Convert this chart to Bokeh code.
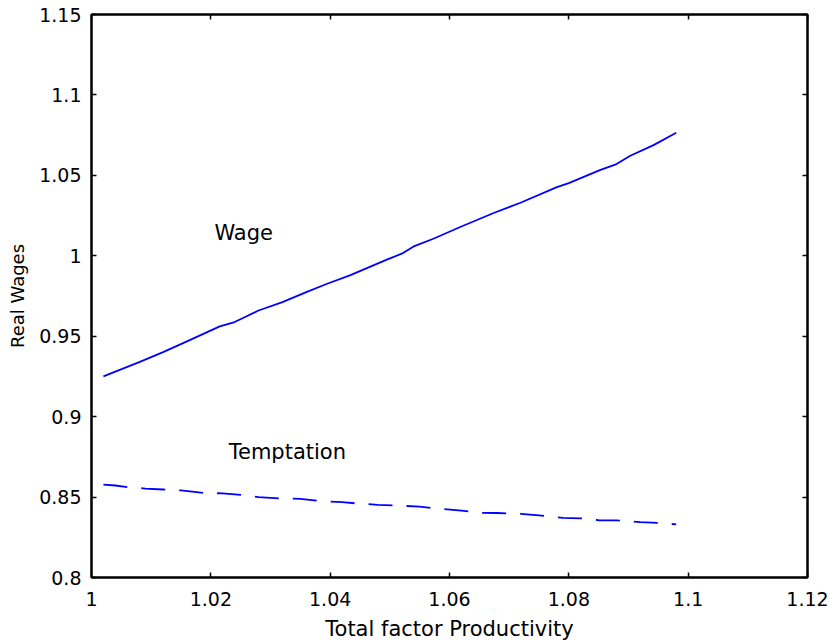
from bokeh.plotting import figure
from bokeh.models import Range1d, FixedTicker, LinearAxis, CustomJSTickFormatter
from bokeh.embed import file_html
from bokeh.resources import INLINE
from bokeh.core.properties import value

# Real wage as a function of total factor productivity
wage_tfp = [1.002, 1.008, 1.012, 1.016, 1.0215, 1.024, 1.028, 1.032, 1.036, 1.0395,
            1.0433, 1.0495, 1.052, 1.054, 1.0573, 1.0618, 1.0674, 1.0718, 1.078, 1.080,
            1.0852, 1.088, 1.0903, 1.0942, 1.098]
wage = [0.9250, 0.9339, 0.9401, 0.9468, 0.9561, 0.9588, 0.9660, 0.9712, 0.9774, 0.9826,
        0.9878, 0.9976, 1.0013, 1.0058, 1.0106, 1.0179, 1.0266, 1.0328, 1.0427, 1.0452,
        1.0533, 1.0570, 1.0622, 1.0688, 1.0765]

# Temptation wage
tempt_tfp = [1.002, 1.004, 1.006, 1.009, 1.012, 1.015, 1.019, 1.022, 1.025, 1.028,
             1.032, 1.035, 1.039, 1.042, 1.045, 1.048, 1.052, 1.055, 1.058, 1.062,
             1.065, 1.068, 1.072, 1.075, 1.079, 1.082, 1.085, 1.088, 1.092, 1.095, 1.098]
temptation = [0.8577, 0.8572, 0.8562, 0.8553, 0.8547, 0.8541, 0.8525, 0.8523, 0.8514, 0.8500,
              0.8491, 0.8489, 0.8473, 0.8468, 0.8459, 0.8452, 0.8446, 0.8440, 0.8428, 0.8416,
              0.8402, 0.8401, 0.8396, 0.8386, 0.8371, 0.8368, 0.8356, 0.8355, 0.8344, 0.8340,
              0.8330]

x_ticks = [1.0, 1.02, 1.04, 1.06, 1.08, 1.1, 1.12]
x_tick_labels = ["1", "1.02", "1.04", "1.06", "1.08", "1.1", "1.12"]
y_ticks = [0.8, 0.85, 0.9, 0.95, 1.0, 1.05, 1.1, 1.15]
y_tick_labels = ["0.8", "0.85", "0.9", "0.95", "1", "1.05", "1.1", "1.15"]

FONT = "DejaVu Sans"
BLUE = "#0000ff"

p = figure(width=838, height=644, output_backend="svg", toolbar_location=None,
           x_range=Range1d(1.0, 1.12), y_range=Range1d(0.8, 1.15),
           min_border_left=91, min_border_right=31, min_border_top=14, min_border_bottom=67)
p.background_fill_color = "white"
p.border_fill_color = "white"
p.grid.visible = False
p.outline_line_color = "black"
p.outline_line_width = 2

def style_axis(ax, ticks, labels, show_labels):
    ax.ticker = FixedTicker(ticks=ticks)
    ax.major_tick_in = 5
    ax.major_tick_out = 0
    ax.minor_tick_in = 0
    ax.minor_tick_out = 0
    ax.axis_line_width = 2
    ax.major_tick_line_width = 1.5
    ax.major_label_text_font = FONT
    ax.major_label_text_font_size = "19px"
    ax.major_label_text_color = "black"
    if show_labels:
        ax.major_label_overrides = {t: s for t, s in zip(ticks, labels)}
    else:
        ax.formatter = CustomJSTickFormatter(code="return ''")
        ax.major_label_text_font_size = "0px"
        ax.major_label_standoff = 0

xa = p.xaxis[0]
ya = p.yaxis[0]
style_axis(xa, x_ticks, x_tick_labels, True)
style_axis(ya, y_ticks, y_tick_labels, True)
xa.major_label_standoff = 14
ya.major_label_standoff = 10

xa.axis_label = "Total factor Productivity"
ya.axis_label = "Real Wages"
for ax in (xa, ya):
    ax.axis_label_text_font = FONT
    ax.axis_label_text_font_style = "normal"
    ax.axis_label_text_color = "black"
xa.axis_label_text_font_size = "21px"
ya.axis_label_text_font_size = "18px"
xa.axis_label_standoff = 8
ya.axis_label_standoff = 8

top = LinearAxis()
right = LinearAxis()
style_axis(top, x_ticks, x_tick_labels, False)
style_axis(right, y_ticks, y_tick_labels, False)
p.add_layout(top, "above")
p.add_layout(right, "right")

p.line(wage_tfp, wage, line_color=BLUE, line_width=1.8)
p.line(tempt_tfp, temptation, line_color=BLUE, line_width=1.8, line_dash="24 14")

p.text(x=[1.0206], y=[1.0141], text=["Wage"], text_font=value(FONT),
       text_font_size="21px", text_color="black", text_baseline="middle", text_align="left")
p.text(x=[1.0230], y=[0.8779], text=["Temptation"], text_font=value(FONT),
       text_font_size="21px", text_color="black", text_baseline="middle", text_align="left")

open("out.html", "w").write(file_html(p, INLINE))
